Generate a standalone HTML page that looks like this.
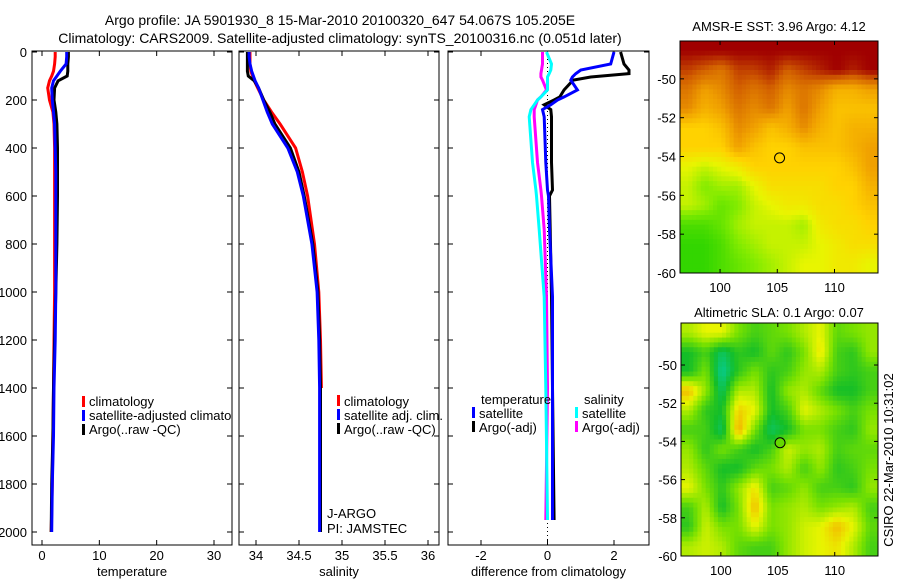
<!DOCTYPE html>
<html><head><meta charset="utf-8">
<style>
html,body{margin:0;padding:0;background:#fff;}
svg{display:block;font-family:"Liberation Sans",sans-serif;}
</style></head>
<body>
<svg id="chart" width="900" height="580" viewBox="0 0 900 580">
<text x="340" y="25" font-size="14" text-anchor="middle">Argo profile: JA 5901930_8 15-Mar-2010 20100320_647 54.067S 105.205E</text>
<text x="340" y="43" font-size="14" text-anchor="middle">Climatology: CARS2009. Satellite-adjusted climatology: synTS_20100316.nc (0.051d later)</text>
<text x="779" y="31" font-size="13" text-anchor="middle">AMSR-E SST: 3.96 Argo: 4.12</text>
<text x="779" y="317" font-size="13" text-anchor="middle">Altimetric SLA: 0.1 Argo: 0.07</text>
<text transform="translate(893,460) rotate(-90)" font-size="13" text-anchor="middle">CSIRO 22-Mar-2010 10:31:02</text>
</svg>
<script>
// ---------- data ----------
const depths = [0,20,50,80,100,120,150,200,250,300,400,500,600,800,1000,1200,1400,1600,1800,2000];
const tempClim = [2.3,2.3,2.2,2.0,1.7,1.3,1.0,1.3,1.9,2.1,2.2,2.2,2.2,2.2,2.2,2.1,2.0,1.9,1.8,1.6];
const tempSat = [4.3,4.3,4.2,3.2,2.6,2.0,1.7,1.8,2.0,2.2,2.3,2.4,2.4,2.4,2.4,2.3,2.1,2.0,1.8,1.7];
const tempArgo = [4.6,4.6,4.5,4.5,4.4,2.8,2.2,2.1,2.4,2.6,2.7,2.7,2.7,2.6,2.4,2.2,2.0,1.9,1.7,1.6];
const salClim = [33.93,33.93,33.93,33.94,33.96,33.98,34.02,34.09,34.18,34.28,34.46,34.54,34.6,34.68,34.73,34.75,34.76,null,null,null];
const salSat = [33.92,33.92,33.93,33.95,33.97,33.99,34.03,34.08,34.13,34.19,34.37,34.48,34.55,34.65,34.71,34.73,34.74,34.74,34.74,34.74];
const salArgo = [33.9,33.9,33.9,33.9,33.91,33.98,34.03,34.09,34.16,34.22,34.4,34.5,34.56,34.66,34.72,34.74,34.75,34.75,34.75,34.75];
const diffDepths = [0,50,75,90,104,117,158,187,200,220,240,270,460,575,600,740,1020,1400,1950];
const dTempSat = [2.0,1.9,1.0,0.85,0.75,0.7,0.9,0.5,0.3,0.1,-0.15,-0.1,-0.05,0,0.03,0.06,0.15,0.15,0.15];
const dTempArgo = [2.2,2.3,2.45,2.45,1.3,0.77,0.5,0.37,0.2,-0.1,0.1,0.12,0.12,0.15,0.06,0.08,0.12,0.15,0.2];
const dSalSat = [-0.03,0.12,0.1,0.05,0.0,0.0,0.0,-0.2,-0.3,-0.4,-0.5,-0.55,-0.45,-0.35,-0.33,-0.25,-0.1,-0.05,0];
const dSalArgo = [-0.15,-0.15,-0.18,-0.2,-0.2,-0.15,-0.03,-0.2,-0.3,-0.35,-0.4,-0.4,-0.3,-0.2,-0.18,-0.1,-0.03,0,-0.05];
const depthTicks = [0,200,400,600,800,1000,1200,1400,1600,1800,2000];
const tempTicks = [0,10,20,30];
const salTicks = [34,34.5,35,35.5,36];
const diffTicks = [-2,0,2];
const latTicks = [-50,-52,-54,-56,-58,-60];
const lonTicks = [100,105,110];
const sstGrid = [
[1,1,1,1,1,1,1,1,1,1,1,1],
[.9,.85,.8,.9,.9,.95,.85,.9,.95,1,.95,1],
[.8,.7,.75,.85,.8,.85,.75,.8,.75,.65,.65,.7],
[.75,.65,.7,.8,.75,.8,.7,.8,.7,.6,.6,.6],
[.55,.55,.6,.75,.7,.6,.65,.75,.65,.6,.65,.65],
[.55,.55,.55,.7,.6,.55,.55,.6,.6,.6,.65,.7],
[.4,.35,.4,.45,.55,.55,.55,.55,.55,.55,.6,.7],
[.35,.25,.3,.3,.4,.5,.5,.5,.5,.55,.55,.65],
[.35,.3,.2,.25,.35,.4,.45,.45,.5,.5,.55,.6],
[.15,.15,.2,.3,.35,.35,.35,.3,.45,.5,.5,.55],
[.1,.1,.15,.25,.3,.35,.35,.35,.4,.45,.5,.5],
[.1,.1,.15,.2,.25,.3,.35,.4,.4,.45,.45,.4]];
const slaGrid = [
[.6,.7,.7,.5,.4,.45,.5,.6,.7,.45,.5,.55],
[.3,.4,.2,.35,.3,.45,.35,.5,.75,.4,.35,.55],
[.3,.5,.1,.35,.5,.35,.4,.55,.6,.4,.35,.4],
[.85,.55,.2,.6,.6,.3,.55,.6,.45,.3,.3,.4],
[.6,.35,.3,.8,.7,.3,.4,.7,.6,.5,.4,.5],
[.4,.4,.2,.9,.5,.2,.3,.5,.5,.4,.35,.55],
[.55,.35,.5,.4,.3,.4,.65,.55,.6,.4,.45,.45],
[.6,.45,.3,.3,.45,.5,.6,.4,.55,.35,.4,.5],
[.7,.5,.35,.55,.75,.4,.45,.55,.4,.4,.35,.55],
[.4,.6,.3,.5,.85,.5,.55,.6,.5,.55,.6,.4],
[.35,.65,.5,.5,.7,.5,.55,.65,.7,.85,.7,.45],
[.6,.65,.6,.45,.4,.4,.55,.65,.7,.75,.6,.4]];
const floatLon = 105.2, floatLat = -54.07;

// ---------- helpers ----------
const svg = document.getElementById('chart');
const NS = 'http://www.w3.org/2000/svg';
function mk(tag, attrs, parent){const e=document.createElementNS(NS,tag);for(const k in attrs)e.setAttribute(k,attrs[k]);(parent||svg).appendChild(e);return e;}
function lin(d0,d1,r0,r1){return v=>r0+(v-d0)*(r1-r0)/(d1-d0);}
const yTop=51, yBot=545;
const yDepth = lin(0,2000,52,532);

function panel(x0,x1,xs,ticks,fmt,label,name){
  const g=mk('g',{});
  
  
  mk('rect',{x:x0,y:yTop,width:x1-x0,height:yBot-yTop,fill:'none',stroke:'#000','stroke-width':1},g);
  ticks.forEach(t=>{const x=xs(t);
    mk('line',{x1:x,x2:x,y1:yBot,y2:yBot-5,stroke:'#000'},g);
    mk('line',{x1:x,x2:x,y1:yTop,y2:yTop+5,stroke:'#000'},g);
    const tx=mk('text',{x:x,y:560,'font-size':13,'text-anchor':'middle'},g);tx.textContent=fmt(t);
    
    
  });
  depthTicks.forEach(d=>{const y=yDepth(d);
    mk('line',{x1:x0,x2:x0+5,y1:y,y2:y,stroke:'#000'},g);
    mk('line',{x1:x1,x2:x1-5,y1:y,y2:y,stroke:'#000'},g);
  });
  const lt=mk('text',{x:(x0+x1)/2,y:576,'font-size':13,'text-anchor':'middle'},g);lt.textContent=label;
  
  
  return g;
}
function series(ys,xs,vals,yv,color,name,w){
  let d='',pen=false;
  vals.forEach((v,i)=>{if(v===null){pen=false;return;}d+=(pen?'L':'M')+xs(v).toFixed(1)+','+yv(ys[i]).toFixed(1);pen=true;});
  const p=mk('path',{d:d,fill:'none',stroke:color,'stroke-width':w||3,'stroke-linejoin':'miter'});
  
  
}
function legendItem(x,y,color,label,name){
  if(color){const r=mk('rect',{x:x,y:y-11,width:3,height:11,fill:color});
    
    }
  const t=mk('text',{x:x+7,y:y,'font-size':13});t.textContent=label;
  
  
}

depthTicks.forEach(d=>{const t=mk('text',{x:27,y:yDepth(d)+5,'font-size':13,'text-anchor':'end'});t.textContent=d;
  
  });

// temperature panel
const xT=lin(0,30,42,214);
panel(32,232,xT,tempTicks,v=>v,'temperature','temperature');
series(depths,xT,tempClim,yDepth,'#ff0000','temp-climatology-line');
series(depths,xT,tempArgo,yDepth,'#000000','temp-argo-line');
series(depths,xT,tempSat,yDepth,'#0000ff','temp-satellite-line');
const clip1=mk('clipPath',{id:'c1'});mk('rect',{x:32,y:0,width:200,height:580},clip1);
const lg1=mk('g',{'clip-path':'url(#c1)'});


[['#ff0000','climatology'],['#0000ff','satellite-adjusted climatology'],['#000000','Argo(..raw -QC)']].forEach((e,i)=>{
  const r=mk('rect',{x:82,y:396+i*14,width:3,height:11,fill:e[0]},lg1);
  
  
  const t=mk('text',{x:89,y:406+i*14,'font-size':13},lg1);t.textContent=e[1];
  
  
});

// salinity panel
const xS=lin(34,36,256,428);
panel(239,439,xS,salTicks,v=>v,'salinity','salinity');
series(depths,xS,salClim,yDepth,'#ff0000','sal-climatology-line');
series(depths,xS,salArgo,yDepth,'#000000','sal-argo-line');
series(depths,xS,salSat,yDepth,'#0000ff','sal-satellite-line');
legendItem(337,406,'#ff0000','climatology','legend-entry-climatology');
legendItem(337,420,'#0000ff','satellite adj. clim.','legend-entry-satellite');
legendItem(337,434,'#000000','Argo(..raw -QC)','legend-entry-argo');
legendItem(320,518,null,'J-ARGO','j-argo-label');
legendItem(320,533,null,'PI: JAMSTEC','pi-label');

// difference panel
const xD=lin(-2,2,481,614);
panel(448,649,xD,diffTicks,v=>v,'difference from climatology','difference');
const zl=mk('line',{x1:xD(0),x2:xD(0),y1:yTop,y2:yBot,stroke:'#000','stroke-dasharray':'1,3'});


series(diffDepths,xD,dSalArgo,yDepth,'#ff00ff','diff-sal-argo-line');
series(diffDepths,xD,dSalSat,yDepth,'#00ffff','diff-sal-satellite-line');
series(diffDepths,xD,dTempArgo,yDepth,'#000000','diff-temp-argo-line');
series(diffDepths,xD,dTempSat,yDepth,'#0000ff','diff-temp-satellite-line');
legendItem(474,404,null,'temperature','legend-temperature-header');
legendItem(577,404,null,'salinity','legend-salinity-header');
legendItem(472,418,'#0000ff','satellite','legend-entry-temp-satellite');
legendItem(472,432,'#000000','Argo(-adj)','legend-entry-temp-argo');
legendItem(575,418,'#00ffff','satellite','legend-entry-sal-satellite');
legendItem(575,432,'#ff00ff','Argo(-adj)','legend-entry-sal-argo');

// ---------- maps ----------
function interp(stops,v){
  v=Math.max(0,Math.min(1,v));
  for(let i=1;i<stops.length;i++){if(v<=stops[i][0]){const a=stops[i-1],b=stops[i],f=(v-a[0])/(b[0]-a[0]);
    return 'rgb('+[1,2,3].map(k=>Math.round(a[k]+(b[k]-a[k])*f)).join(',')+')';}}
  const l=stops[stops.length-1];return 'rgb('+l[1]+','+l[2]+','+l[3]+')';
}
function sample(grid,fr,fc){
  const R=grid.length,C=grid[0].length;
  fr=Math.max(0,Math.min(R-1,fr));fc=Math.max(0,Math.min(C-1,fc));
  const r0=Math.floor(fr),c0=Math.floor(fc),r1=Math.min(R-1,r0+1),c1=Math.min(C-1,c0+1),a=fr-r0,b=fc-c0;
  return grid[r0][c0]*(1-a)*(1-b)+grid[r0][c1]*(1-a)*b+grid[r1][c0]*a*(1-b)+grid[r1][c1]*a*b;
}
const sstStops=[[0,0,200,0],[0.25,128,235,0],[0.4,232,245,0],[0.55,255,210,0],[0.7,240,160,0],[0.85,210,96,0],[1,160,0,0]];
const slaStops=[[0,0,210,200],[0.3,20,190,40],[0.5,120,225,0],[0.7,232,245,0],[0.9,245,170,0],[1,240,140,0]];
function map(grid,stops,x0,x1,y0,y1,latTop,name,fillDot){
  const g=mk('g',{});
  
  
  const xs=lin(96.5,113.8,x0,x1), ys=lin(latTop,-60,y0,y1);
  const rows=grid.length, cols=grid[0].length, sub=4;
  const cw=(x1-x0)/(cols*sub), ch=(y1-y0)/(rows*sub);
  for(let r=0;r<rows*sub;r++)for(let c=0;c<cols*sub;c++){
    const v=sample(grid,(r+0.5)/sub-0.5,(c+0.5)/sub-0.5);
    const cell=mk('rect',{x:(x0+c*cw).toFixed(2),y:(y0+r*ch).toFixed(2),width:(cw+0.5).toFixed(2),height:(ch+0.5).toFixed(2),fill:interp(stops,v)},g);
    
    
  }
  mk('rect',{x:x0,y:y0,width:x1-x0,height:y1-y0,fill:'none',stroke:'#000'},g);
  latTicks.forEach(t=>{const y=ys(t);
    mk('line',{x1:x0,x2:x0+4,y1:y,y2:y,stroke:'#000'},g);mk('line',{x1:x1,x2:x1-4,y1:y,y2:y,stroke:'#000'},g);
    const tx=mk('text',{x:x0-4,y:y+5,'font-size':13,'text-anchor':'end'},g);tx.textContent=t;
    
    });
  lonTicks.forEach(t=>{const x=xs(t);
    mk('line',{x1:x,x2:x,y1:y1,y2:y1-4,stroke:'#000'},g);mk('line',{x1:x,x2:x,y1:y0,y2:y0+4,stroke:'#000'},g);
    const tx=mk('text',{x:x,y:y1+19,'font-size':13,'text-anchor':'middle'},g);tx.textContent=t;
    
    });
  const dot=mk('circle',{cx:xs(floatLon),cy:ys(floatLat),r:5,fill:fillDot,stroke:'#000','stroke-width':1},g);
  
  
}
map(sstGrid,sstStops,680,878,41,273,-48.05,'sst-map','none');
map(slaGrid,slaStops,681,878,323,556,-47.8,'sla-map','#66d800');
</script>
</body></html>
